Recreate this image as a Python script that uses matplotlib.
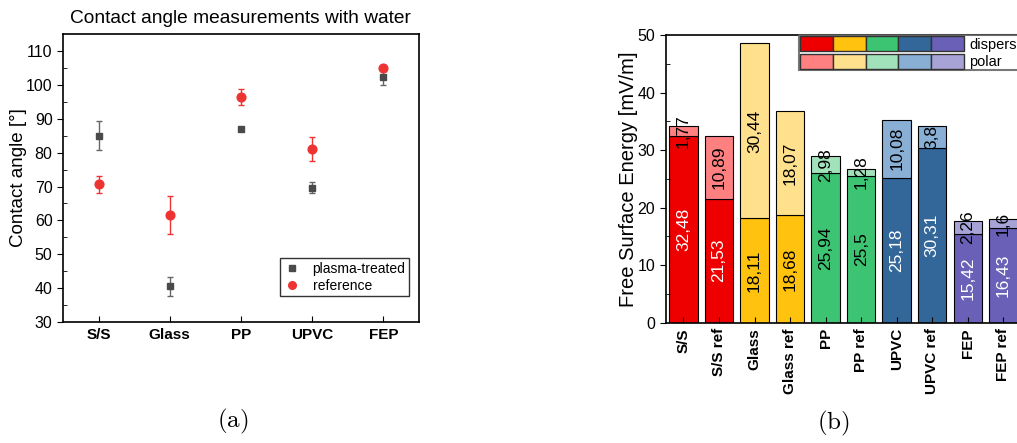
import matplotlib.pyplot as plt
from matplotlib.patches import Patch
from matplotlib.lines import Line2D
from matplotlib.legend_handler import HandlerTuple

plt.rcParams['font.family'] = ['Liberation Sans', 'DejaVu Sans']
plt.rcParams['mathtext.fontset'] = 'cm'

# (a) contact angle data
materials = ["S/S", "Glass", "PP", "UPVC", "FEP"]
plasma_angle = [85.0, 40.6, 87.0, 69.7, 102.2]
plasma_err = [4.3, 2.8, 0.6, 1.5, 2.3]
ref_angle = [70.6, 61.6, 96.4, 81.1, 105.0]
ref_err = [2.4, 5.5, 2.3, 3.5, 0.8]

# (b) free surface energy data
samples = ["S/S", "S/S ref", "Glass", "Glass ref", "PP", "PP ref",
           "UPVC", "UPVC ref", "FEP", "FEP ref"]
dispersive = [32.48, 21.53, 18.11, 18.68, 25.94, 25.5, 25.18, 30.31, 15.42, 16.43]
polar = [1.77, 10.89, 30.44, 18.07, 2.98, 1.28, 10.08, 3.8, 2.26, 1.6]

disp_colors = ["#ee0000", "#ffc20e", "#3cc472", "#336699", "#6a60b8"]
polar_colors = ["#ff8080", "#ffe08c", "#a2e2bb", "#89afd5", "#a8a3d7"]
disp_text = ["white", "black", "black", "white", "white"]
polar_text = ["black", "black", "black", "black", "black"]

fig = plt.figure(figsize=(10.17, 4.43), dpi=100)

# ---- (a) ----
ax1 = fig.add_axes([0.0619, 0.2731, 0.350, 0.650])
x1 = range(len(materials))
ax1.errorbar(x1, plasma_angle, yerr=plasma_err, fmt="s", color="#4a4a4a",
             ecolor="#666666", ms=5, capsize=2.5, elinewidth=1)
ax1.errorbar(x1, ref_angle, yerr=ref_err, fmt="o", color="#ee3333",
             ecolor="#ee3333", ms=6.3, capsize=2.5, elinewidth=1)
ax1.set_xlim(-0.5, 4.5)
ax1.set_ylim(30, 115)
ax1.set_yticks(range(30, 111, 10))
ax1.set_yticks(range(35, 115, 10), minor=True)
ax1.set_xticks(list(x1))
ax1.set_xticklabels(materials, fontweight="bold", fontsize=11)
ax1.tick_params(axis="y", which="major", direction="out", length=4, labelsize=11.5)
ax1.tick_params(axis="y", which="minor", direction="in", length=3)
ax1.tick_params(axis="x", direction="in", length=4, pad=4)
ax1.set_ylabel("Contact angle [°]", fontsize=13.5)
ax1.yaxis.set_label_coords(-0.101, 0.5)
ax1.set_title("Contact angle measurements with water", fontsize=13.75, pad=8)
for s in ax1.spines.values():
    s.set_linewidth(1.2)
h1 = [Line2D([], [], marker="s", ls="none", color="#4a4a4a", ms=4.5),
      Line2D([], [], marker="o", ls="none", color="#ee3333", ms=5.5)]
leg1 = ax1.legend(h1, ["plasma-treated", "reference"], loc="lower right",
                  bbox_to_anchor=(0.972, 0.09), borderaxespad=0, fontsize=10,
                  fancybox=False, edgecolor="black", handlelength=1.2,
                  handletextpad=0.9, borderpad=0.25, labelspacing=0.2)
leg1.get_frame().set_linewidth(1.0)

# ---- (b) ----
ax2 = fig.add_axes([0.6546, 0.2716, 0.3494, 0.6494])
x2 = list(range(len(samples)))
for i in x2:
    c = i // 2
    ax2.bar(i, dispersive[i], width=0.8, color=disp_colors[c],
            edgecolor="black", linewidth=0.8)
    ax2.bar(i, polar[i], bottom=dispersive[i], width=0.8, color=polar_colors[c],
            edgecolor="black", linewidth=0.8)
    ax2.text(i, dispersive[i] / 2, f"{dispersive[i]:g}".replace(".", ","),
             rotation=90, ha="center", va="center", fontsize=12.5,
             color=disp_text[c])
    ax2.text(i, dispersive[i] + polar[i] / 2, f"{polar[i]:g}".replace(".", ","),
             rotation=90, ha="center", va="center", fontsize=12.5,
             color=polar_text[c])
ax2.set_xlim(-0.5, 9.5)
ax2.set_ylim(0, 50)
ax2.set_yticks(range(0, 51, 10))
ax2.set_yticks(range(5, 50, 10), minor=True)
ax2.set_xticks(x2)
ax2.set_xticklabels(samples, rotation=90, fontweight="bold", fontsize=11)
ax2.tick_params(axis="y", which="major", direction="out", length=4, labelsize=11.5)
ax2.tick_params(axis="y", which="minor", direction="in", length=3)
ax2.tick_params(axis="x", direction="in", length=4, pad=4)
ax2.set_ylabel("Free Surface Energy [mV/m]", fontsize=14.5)
ax2.yaxis.set_label_coords(-0.078, 0.5)
for s in ax2.spines.values():
    s.set_linewidth(1.2)

disp_handles = tuple(Patch(facecolor=c, edgecolor="#333333", linewidth=1)
                     for c in disp_colors)
polar_handles = tuple(Patch(facecolor=c, edgecolor="#333333", linewidth=1)
                      for c in polar_colors)
leg2 = ax2.legend([disp_handles, polar_handles], ["dispersive", "polar"],
                  handler_map={tuple: HandlerTuple(ndivide=None, pad=0)},
                  loc="upper left", bbox_to_anchor=(0.375, 1.0),
                  borderaxespad=0, fontsize=10.5, handlelength=11.2,
                  handleheight=1.2, labelspacing=0.12, borderpad=0.1,
                  handletextpad=0.35, fancybox=False, edgecolor="#555555")
leg2.get_frame().set_linewidth(1.5)

# captions
fig.text(0.2287, 0.048, r"$\mathrm{(a)}$", fontsize=18, ha="center", va="center")
fig.text(0.819, 0.045, r"$\mathrm{(b)}$", fontsize=18, ha="center", va="center")

fig.savefig("out.png", dpi=100)
